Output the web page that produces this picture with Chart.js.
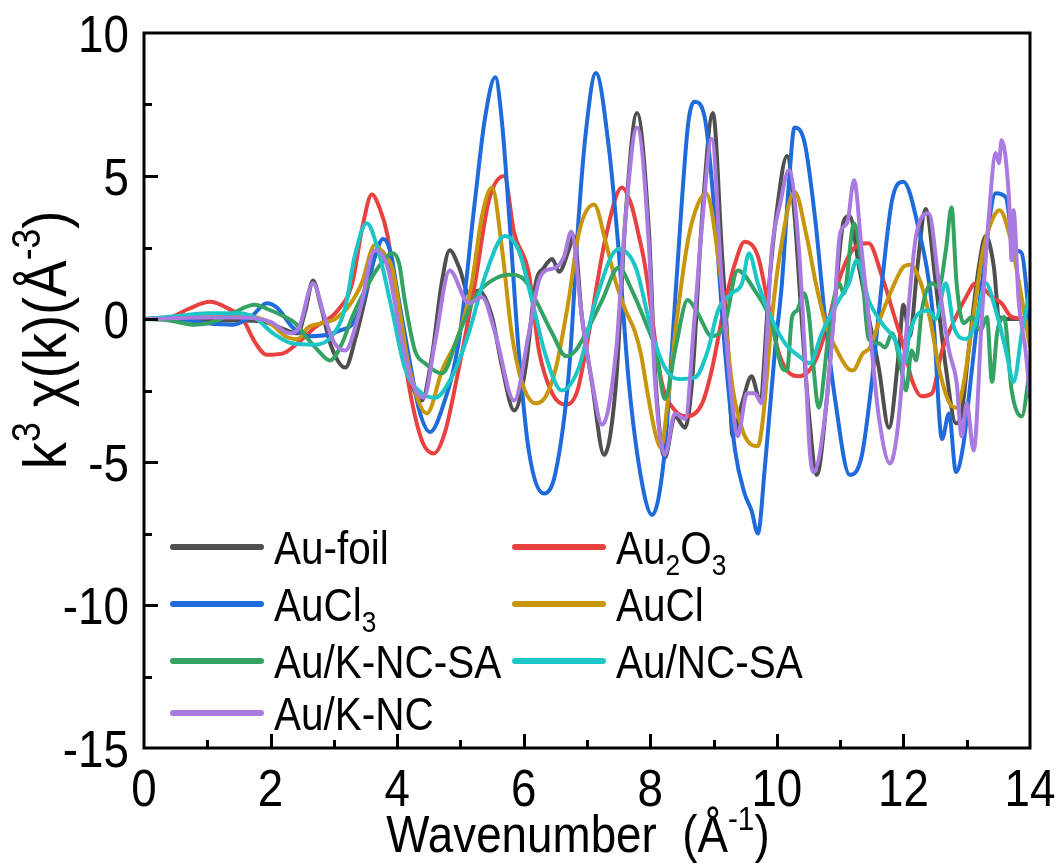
<!DOCTYPE html>
<html>
<head>
<meta charset="utf-8">
<script src="https://cdn.jsdelivr.net/npm/chart.js@4.4.1/dist/chart.umd.min.js"></script>
<style>
  html, body { margin: 0; padding: 0; background: #fff; }
  #wrap { width: 1060px; height: 863px; }
</style>
</head>
<body>
<div id="wrap"><canvas id="exafs" width="1060" height="863"></canvas></div>
<script>
const FONT = '"Liberation Sans", Arial, sans-serif';
const NARROW = 0.88; // horizontal squeeze for all text

// axis ranges
const kRange = [0, 14];
const chiRange = [-15, 10];

// k (Å^-1), k^3·χ(k)
const auFoil = [[0,0],[0.5,0],[1.0,-0.05],[1.5,-0.05],[1.9,-0.1],[2.15,-0.3],[2.43,-0.5],[2.55,0.3],[2.67,1.35],[2.8,0.4],[2.95,-0.9],[3.18,-1.7],[3.35,-0.6],[3.49,0.66],[3.65,2.2],[3.73,2.4],[3.85,2.0],[3.95,1.0],[4.1,-1.0],[4.25,-2.4],[4.39,-2.85],[4.55,-1.3],[4.7,1.2],[4.83,2.4],[4.98,1.8],[5.13,0.9],[5.29,1.0],[5.5,0.07],[5.66,-1.7],[5.85,-3.2],[6.03,-1.7],[6.19,1.25],[6.32,1.8],[6.45,2.1],[6.56,1.65],[6.71,2.4],[6.79,2.9],[6.92,0.07],[7.08,-2.25],[7.27,-4.75],[7.46,-2.2],[7.61,3.6],[7.79,7.2],[7.98,3.0],[8.08,-2.0],[8.23,-4.85],[8.39,-3.4],[8.55,-3.8],[8.66,-2.2],[8.82,3.6],[8.99,7.2],[9.13,2.4],[9.23,-1.1],[9.3,-4.1],[9.45,-2.95],[9.6,-2.0],[9.73,-2.8],[9.89,1.5],[10.0,3.8],[10.16,5.7],[10.28,3.6],[10.39,0.07],[10.51,-3.4],[10.63,-5.45],[10.79,-2.8],[10.92,0.66],[11.06,3.45],[11.15,3.6],[11.3,1.8],[11.45,0.07],[11.61,-1.7],[11.77,-3.8],[11.93,-1.1],[12.0,0.5],[12.1,-0.6],[12.22,1.8],[12.35,3.85],[12.51,1.25],[12.67,-1.7],[12.83,-3.65],[12.92,-3.3],[13.03,-1.1],[13.19,1.8],[13.3,2.9],[13.43,1.8],[13.51,0.07],[13.67,0],[13.82,0],[14,0.1]];

const au2O3 = [[0,0],[0.4,0.05],[0.7,0.35],[1.04,0.6],[1.3,0.4],[1.56,0],[1.75,-0.8],[1.94,-1.25],[2.2,-1.2],[2.45,-0.8],[2.7,-0.3],[3.06,0.3],[3.29,1.25],[3.45,3.2],[3.6,4.35],[3.72,3.9],[3.85,2.9],[4.0,0.5],[4.2,-2.5],[4.4,-4.3],[4.58,-4.7],[4.75,-4.0],[4.95,-2.0],[5.23,1.25],[5.45,4.15],[5.69,5.0],[5.85,3.0],[6.08,1.6],[6.24,-1.1],[6.45,-2.6],[6.67,-3.0],[6.85,-2.5],[6.98,-1.1],[7.3,2.9],[7.55,4.6],[7.7,4.0],[7.82,2.9],[7.91,1.95],[8.18,-2.2],[8.39,-3.2],[8.59,-3.4],[8.82,-2.95],[8.97,-1.8],[9.18,0.55],[9.34,1.95],[9.49,2.7],[9.7,2.2],[9.86,0.55],[10.02,-1.1],[10.16,-1.8],[10.36,-2.0],[10.6,-1.5],[10.8,-0.2],[10.98,1.35],[11.23,2.5],[11.45,2.65],[11.66,1.5],[11.86,0.07],[12.02,-1.1],[12.13,-2.1],[12.29,-2.7],[12.45,-2.6],[12.61,-1.1],[12.83,0.07],[12.99,0.77],[13.14,1.25],[13.4,0.77],[13.55,0.55],[13.71,0.07],[14,0]];

const auCl3 = [[0,0],[0.5,0],[1.0,-0.15],[1.4,-0.2],[1.7,0.1],[1.94,0.55],[2.1,0.4],[2.35,-0.3],[2.6,-0.6],[2.9,-0.55],[3.1,-0.4],[3.3,-0.15],[3.5,0.9],[3.65,2.2],[3.78,2.8],[3.9,2.3],[4.0,1.0],[4.2,-1.5],[4.35,-3.2],[4.52,-3.95],[4.7,-3.2],[4.98,-0.7],[5.23,4.15],[5.39,7.05],[5.55,8.45],[5.66,6.8],[5.77,3.6],[5.92,-1.1],[6.08,-4.6],[6.32,-6.1],[6.5,-5.4],[6.72,-1.7],[6.87,3.6],[6.98,6.5],[7.14,8.6],[7.35,5.9],[7.5,2.4],[7.66,-2.2],[7.87,-5.75],[8.03,-6.85],[8.23,-4.6],[8.34,-1.1],[8.5,4.15],[8.6,6.85],[8.7,7.6],[8.86,7.05],[9.02,3.6],[9.18,-1.1],[9.34,-4.6],[9.49,-6.1],[9.6,-6.7],[9.7,-7.5],[9.81,-5.2],[9.97,-1.1],[10.08,1.25],[10.19,4.75],[10.28,6.7],[10.44,6.15],[10.6,3.6],[10.76,0.07],[10.92,-2.8],[11.15,-5.45],[11.34,-4.8],[11.5,-2.2],[11.66,1.25],[11.82,4.15],[12.0,4.8],[12.22,3.35],[12.47,0.07],[12.61,-4.2],[12.72,-3.3],[12.83,-5.35],[12.95,-4.35],[13.06,-2.2],[13.24,1.25],[13.46,4.4],[13.62,4.25],[13.7,3.1],[13.79,2.4],[13.87,2.3],[14,-0.3]];

const auCl = [[0,0],[0.5,0.05],[1.0,0.15],[1.5,0.15],[1.8,0.05],[2.0,-0.15],[2.23,-0.6],[2.43,-0.7],[2.59,-0.3],[2.81,-0.15],[3.02,0],[3.22,0.4],[3.44,1.25],[3.65,2.6],[3.81,2.2],[3.92,1.8],[4.19,-1.7],[4.47,-3.3],[4.71,-1.8],[4.98,-0.5],[5.18,1.25],[5.34,3.6],[5.5,4.6],[5.66,2.4],[5.81,-0.5],[5.97,-2.2],[6.19,-2.95],[6.35,-2.7],[6.51,-1.7],[6.71,0.66],[6.87,3.0],[7.11,4.0],[7.3,2.65],[7.46,1.25],[7.61,0.3],[7.75,-0.4],[7.85,-1.2],[7.95,-2.5],[8.08,-4.0],[8.17,-4.5],[8.28,-2.8],[8.42,0],[8.6,2.8],[8.75,4.0],[8.88,4.4],[9.1,1.7],[9.3,-2.4],[9.46,-3.9],[9.57,-4.35],[9.7,-4.45],[9.78,-3.5],[9.92,0],[10.05,2.3],[10.28,4.45],[10.47,2.9],[10.63,1.1],[10.79,-0.3],[10.95,-1.1],[11.11,-1.7],[11.2,-1.8],[11.36,-1.2],[11.47,-1.0],[11.63,0],[11.83,1.1],[11.99,1.8],[12.1,1.9],[12.26,1.35],[12.42,0],[12.57,-1.8],[12.73,-2.95],[12.84,-3.1],[12.94,-2.4],[13.1,0],[13.25,2.3],[13.4,3.45],[13.52,3.8],[13.68,2.9],[13.84,1.1],[14,-1.0]];

const auKNCSA = [[0,0],[0.4,-0.05],[0.8,-0.2],[1.1,-0.1],[1.4,0.2],[1.75,0.5],[1.95,0.35],[2.23,0.07],[2.39,-0.15],[2.59,-0.7],[2.75,-1.1],[2.94,-1.45],[3.13,-0.85],[3.29,0.07],[3.49,1.0],[3.7,1.8],[3.93,2.3],[4.03,1.95],[4.12,0.66],[4.28,-1.1],[4.44,-1.55],[4.71,-1.9],[4.98,-0.5],[5.23,0.77],[5.5,1.35],[5.77,1.55],[6.02,1.35],[6.19,0.66],[6.45,-0.5],[6.67,-1.3],[6.82,-1.1],[6.98,-0.5],[7.24,0.66],[7.5,1.8],[7.71,1.0],[7.93,-0.15],[8.09,-1.1],[8.23,-2.8],[8.4,-1.0],[8.59,0.66],[8.75,0.2],[8.97,-0.6],[9.18,-0.15],[9.38,1.7],[9.65,1.0],[9.92,-0.15],[10.08,-1.7],[10.16,-1.8],[10.24,0.07],[10.32,0.3],[10.43,0.9],[10.51,0.07],[10.58,-1.7],[10.66,-3.1],[10.82,-0.5],[10.98,1.25],[11.06,0.9],[11.22,3.35],[11.34,1.8],[11.45,-0.7],[11.61,-0.85],[11.71,-1.0],[11.82,-0.5],[11.97,-1.8],[12.04,-2.5],[12.13,-1.1],[12.2,-1.45],[12.29,0.3],[12.45,1.25],[12.56,1.1],[12.67,2.4],[12.76,3.9],[12.84,1.25],[12.95,-0.15],[13.08,0.07],[13.22,-0.4],[13.32,0.07],[13.4,-2.2],[13.48,-0.5],[13.59,0.07],[13.71,-2.5],[13.87,-3.4],[14,-1.7]];

const auNCSA = [[0,0],[0.5,0.1],[1.0,0.2],[1.5,0.2],[1.75,0.05],[2.04,-0.5],[2.34,-0.85],[2.7,-0.9],[2.97,-0.6],[3.18,0.4],[3.33,2.2],[3.52,3.35],[3.7,2.4],[3.92,0.3],[4.12,-1.7],[4.39,-2.6],[4.6,-2.75],[4.87,-2.0],[5.13,-0.5],[5.39,1.5],[5.7,2.9],[5.92,2.4],[6.13,0.66],[6.35,-1.3],[6.6,-2.5],[6.87,-1.7],[7.14,0.66],[7.5,2.45],[7.77,1.8],[8.03,-0.5],[8.23,-1.7],[8.44,-2.1],[8.7,-2.05],[8.91,-1.1],[9.07,0.3],[9.29,0.9],[9.45,1.25],[9.56,2.3],[9.7,1.25],[9.92,0],[10.13,-0.85],[10.35,-1.3],[10.52,-1.55],[10.71,-0.5],[10.98,0.66],[11.14,1.25],[11.26,2.05],[11.45,0.66],[11.66,-0.15],[11.86,-0.7],[12.02,-1.55],[12.09,-0.6],[12.24,0.2],[12.4,0.3],[12.51,0],[12.67,1.25],[12.8,-0.3],[12.99,-0.7],[13.14,-0.15],[13.3,1.25],[13.46,0.3],[13.62,-1.1],[13.74,-2.2],[13.87,-0.5],[14,1.0]];

const auKNC = [[0,0],[1.0,0.05],[1.5,0.05],[2.0,-0.1],[2.3,-0.5],[2.45,-0.3],[2.67,1.25],[2.85,0.1],[3.0,-0.8],[3.18,-1.1],[3.4,0.2],[3.65,2.4],[3.85,1.8],[4.05,-0.5],[4.25,-2.3],[4.42,-2.75],[4.6,-0.8],[4.83,1.7],[5.13,0.55],[5.34,0.77],[5.55,-0.5],[5.85,-2.85],[6.08,-0.5],[6.24,1.35],[6.35,1.7],[6.51,1.8],[6.64,2.2],[6.75,3.05],[6.92,0.07],[7.08,-2.2],[7.24,-3.7],[7.46,-1.1],[7.61,3.6],[7.79,6.7],[7.98,2.5],[8.07,-2.0],[8.23,-4.75],[8.39,-3.3],[8.55,-3.5],[8.7,0.07],[8.83,3.6],[8.97,6.3],[9.13,1.25],[9.29,-2.85],[9.38,-4.1],[9.53,-2.6],[9.65,-2.6],[9.76,-2.95],[9.92,2.4],[10.05,4.0],[10.19,5.2],[10.35,2.4],[10.44,-1.1],[10.52,-4.6],[10.58,-5.35],[10.76,-3.4],[10.9,0.07],[11.0,3.0],[11.11,3.35],[11.22,4.85],[11.34,2.4],[11.45,0.07],[11.61,-3.4],[11.79,-5.05],[11.9,-4.0],[12.02,-1.1],[12.2,2.9],[12.4,3.7],[12.56,1.25],[12.72,-1.1],[12.84,-2.2],[12.92,-4.1],[13.0,-2.95],[13.11,-4.6],[13.24,0.07],[13.35,3.6],[13.46,5.8],[13.51,5.45],[13.55,6.25],[13.67,4.15],[13.71,2.05],[13.74,3.8],[13.82,0.66],[13.93,-1.1],[14,-2.8]];

// legend text: "_x" = subscript char, "^{..}" = superscript group
const labels = ['Au-foil', 'Au_2O_3', 'AuCl_3', 'AuCl', 'Au/K-NC-SA', 'Au/NC-SA', 'Au/K-NC'];
const colors = ['#4f4f4f', '#e8413f', '#1f6bdb', '#c8960c', '#34a263', '#1cc6c6', '#a97be0'];
const series = [auFoil, au2O3, auCl3, auCl, auKNCSA, auNCSA, auKNC];
// drawing order, lower = on top
const stackOrder = [6, 5, 4, 3, 2, 1, 0];

function parseRich(str) {
  const parts = [];
  let i = 0;
  while (i < str.length) {
    const c = str[i];
    if (c === '_') {
      parts.push({ t: str[i + 1], sub: true });
      i += 2;
    } else if (c === '^' && str[i + 1] === '{') {
      const end = str.indexOf('}', i);
      parts.push({ t: str.slice(i + 2, end), sup: true });
      i = end + 1;
    } else {
      let j = i;
      while (j < str.length && str[j] !== '_' && str[j] !== '^') j++;
      parts.push({ t: str.slice(i, j) });
      i = j;
    }
  }
  return parts;
}

function richWidth(ctx, str, size) {
  let w = 0;
  parseRich(str).forEach(p => {
    const s = (p.sub || p.sup) ? size * 0.65 : size;
    ctx.font = s + 'px ' + FONT;
    w += ctx.measureText(p.t).width;
  });
  return w * NARROW;
}

// draws left-aligned rich text with its baseline at y
function drawRich(ctx, str, x, y, size) {
  ctx.save();
  ctx.translate(x, y);
  ctx.scale(NARROW, 1);
  let cx = 0;
  parseRich(str).forEach(p => {
    const s = (p.sub || p.sup) ? size * 0.65 : size;
    const dy = p.sub ? size * 0.25 : (p.sup ? -size * 0.42 : 0);
    ctx.font = s + 'px ' + FONT;
    ctx.fillText(p.t, cx, dy);
    cx += ctx.measureText(p.t).width;
  });
  ctx.restore();
}

const decorations = {
  id: 'decorations',
  afterDatasetsDraw(chart) {
    const { ctx, chartArea: a, scales: { x, y } } = chart;
    ctx.save();
    ctx.strokeStyle = '#000';
    ctx.lineWidth = 3;
    ctx.lineCap = 'butt';
    ctx.beginPath();
    // inward ticks on bottom and left
    for (let k = kRange[0] + 1; k < kRange[1]; k += 1) {
      const px = Math.round(x.getPixelForValue(k)) + 0.5;
      const len = k % 2 === 0 ? 14 : 8;
      ctx.moveTo(px, a.bottom);
      ctx.lineTo(px, a.bottom - len);
    }
    for (let v = chiRange[0] + 2.5; v < chiRange[1]; v += 2.5) {
      const py = Math.round(y.getPixelForValue(v)) + 0.5;
      const len = v % 5 === 0 ? 14 : 8;
      ctx.moveTo(a.left, py);
      ctx.lineTo(a.left + len, py);
    }
    ctx.stroke();
    ctx.strokeRect(a.left, a.top, a.right - a.left, a.bottom - a.top);

    ctx.fillStyle = '#000';
    ctx.textBaseline = 'alphabetic';
    ctx.textAlign = 'left';

    // tick labels from the scales' own ticks
    const tickSize = 52;
    x.ticks.forEach(t => {
      const s = String(t.value);
      const w = richWidth(ctx, s, tickSize);
      drawRich(ctx, s, x.getPixelForValue(t.value) - w / 2, a.bottom + 58, tickSize);
    });
    y.ticks.forEach(t => {
      const s = String(t.value);
      const w = richWidth(ctx, s, tickSize);
      drawRich(ctx, s, a.left - 15 - w, y.getPixelForValue(t.value) + tickSize * 0.36, tickSize);
    });

    // legend, two columns
    const legSize = 46;
    const colX = [173, 515];
    const rowY = [547, 604, 661, 713];
    labels.forEach((lab, i) => {
      const lx = colX[i % 2];
      const ly = rowY[Math.floor(i / 2)];
      ctx.strokeStyle = colors[i];
      ctx.lineWidth = 6;
      ctx.lineCap = 'round';
      ctx.beginPath();
      ctx.moveTo(lx, ly);
      ctx.lineTo(lx + 88, ly);
      ctx.stroke();
      drawRich(ctx, lab, lx + 101, ly + legSize * 0.36, legSize);
    });

    // axis titles
    const tSize = 52;
    const xt = 'Wavenumber  (Å^{-1})';
    const xw = richWidth(ctx, xt, tSize);
    drawRich(ctx, xt, 578 - xw / 2, 852, tSize);

    const ySize = 62;
    const yt = 'k^{3} χ(k)(Å^{-3})';
    const yw = richWidth(ctx, yt, ySize);
    ctx.translate(66, 340);
    ctx.rotate(-Math.PI / 2);
    drawRich(ctx, yt, -yw / 2, 0, ySize);
    ctx.restore();
  }
};

new Chart(document.getElementById('exafs'), {
  type: 'line',
  data: {
    datasets: series.map((pts, i) => ({
      label: labels[i],
      data: pts.map(p => ({ x: p[0], y: p[1] })),
      borderColor: colors[i],
      borderWidth: 4,
      pointRadius: 0,
      cubicInterpolationMode: 'monotone',
      order: stackOrder[i]
    }))
  },
  options: {
    responsive: false,
    animation: false,
    devicePixelRatio: 1,
    layout: { padding: { left: 0, right: 30, top: 33, bottom: 0 } },
    plugins: { legend: { display: false }, tooltip: { enabled: false } },
    scales: {
      x: {
        type: 'linear',
        min: kRange[0], max: kRange[1],
        grid: { display: false },
        border: { display: false },
        afterFit: s => { s.height = 115; s.paddingLeft = 0; s.paddingRight = 0; },
        ticks: { stepSize: 2, display: false }
      },
      y: {
        min: chiRange[0], max: chiRange[1],
        grid: { display: false },
        border: { display: false },
        afterFit: s => { s.width = 144; s.paddingTop = 0; s.paddingBottom = 0; },
        ticks: { stepSize: 5, display: false }
      }
    }
  },
  plugins: [decorations]
});
</script>
</body>
</html>
